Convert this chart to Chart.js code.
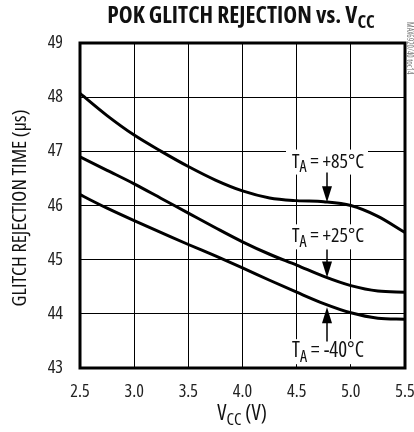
<!DOCTYPE html>
<html>
<head>
<meta charset="utf-8">
<script src="https://cdn.jsdelivr.net/npm/chart.js@4.4.1/dist/chart.umd.min.js"></script>
<style>
    html, body { margin: 0; padding: 0; background: #fff; }
    #wrap { width: 414px; height: 432px; position: relative; }
</style>
</head>
<body>
<div id="wrap"><canvas id="chart"></canvas></div>
<script>
// supply voltage (V)
const vcc = [2.5, 2.75, 3.0, 3.25, 3.5, 3.75, 4.0, 4.25, 4.5, 4.75, 5.0, 5.25, 5.5];
// glitch rejection time (us) per temperature
const t85 = [48.07, 47.66, 47.3, 47.0, 46.72, 46.47, 46.27, 46.14, 46.09, 46.07, 46.0, 45.8, 45.5];
const t25 = [46.9, 46.65, 46.4, 46.13, 45.86, 45.59, 45.33, 45.1, 44.9, 44.69, 44.52, 44.42, 44.4];
const tm40 = [46.2, 45.95, 45.72, 45.5, 45.28, 45.07, 44.85, 44.62, 44.4, 44.19, 44.02, 43.92, 43.9];

const xTicks = [2.5, 3.0, 3.5, 4.0, 4.5, 5.0, 5.5];
const yTicks = [43, 44, 45, 46, 47, 48, 49];

// annotation labels: [temp text, x (V), label baseline (us), arrow tail (us), arrow tip (us)]
const notes = [
    ['+85°C', 4.78, 46.70, 46.61, 46.06],
    ['+25°C', 4.78, 45.32, 45.19, 44.67],
    ['-40°C', 4.78, 43.20, 43.49, 44.12]
];

// condensed face if the browser gives one, else DejaVu Sans Condensed
let FAMILY = "'Open Sans'";
let STRETCH = 'condensed';
(function pickFont() {
    const c = document.createElement('canvas').getContext('2d');
    c.font = "16px 'Open Sans'";
    const w1 = c.measureText('2.5 +85°C').width;
    c.font = "condensed 16px 'Open Sans'";
    const w2 = c.measureText('2.5 +85°C').width;
    if (!(w2 < w1 * 0.9)) {
        FAMILY = "'DejaVu Sans Condensed', sans-serif";
        STRETCH = '';
    }
})();

function fnt(size, bold) {
    return (STRETCH ? STRETCH + ' ' : '') + (bold ? 'bold ' : '') + size + 'px ' + FAMILY;
}

function series(vals) {
    return {
        data: vcc.map((v, i) => ({ x: v, y: vals[i] })),
        borderColor: '#000',
        borderWidth: 3,
        pointRadius: 0,
        cubicInterpolationMode: 'monotone',
        fill: false
    };
}

// text with subscript parts; returns width
function subText(ctx, parts, x, y, size, bold, draw) {
    let w = 0;
    const widths = parts.map(p => {
        ctx.font = fnt(p.sub ? Math.round(size * 0.78) : size, bold);
        const m = ctx.measureText(p.t).width;
        w += m;
        return m;
    });
    if (draw === false) return w;
    let cx = x - w / 2;
    ctx.textAlign = 'left';
    ctx.textBaseline = 'alphabetic';
    parts.forEach((p, i) => {
        ctx.font = fnt(p.sub ? Math.round(size * 0.78) : size, bold);
        ctx.fillText(p.t, cx, y + (p.sub ? size * 0.22 : 0));
        cx += widths[i];
    });
    return w;
}

// pick the size that makes text as wide as the target
function fitSize(ctx, parts, bold, target, base) {
    const w = subText(ctx, parts, 0, 0, base, bold, false);
    return base * target / w;
}

const decor = {
    id: 'decor',
    beforeDatasetsDraw(chart) {
        const { ctx, scales } = chart;
        ctx.save();
        ctx.fillStyle = '#fff';
        notes.forEach(n => {
            const x = scales.x.getPixelForValue(n[1]);
            const y = scales.y.getPixelForValue(n[2]);
            ctx.fillRect(x - 41, y - 18, 82, 25);
        });
        ctx.restore();
    },
    afterDraw(chart) {
        const { ctx, chartArea: a, scales } = chart;
        ctx.save();
        ctx.fillStyle = '#111';
        ctx.strokeStyle = '#000';

        // frame
        ctx.lineWidth = 3;
        ctx.strokeRect(a.left, a.top, a.right - a.left, a.bottom - a.top);

        // title
        const tParts = [{ t: 'POK GLITCH REJECTION vs. V' }, { t: 'CC', sub: true }];
        subText(ctx, tParts, 241, 23, fitSize(ctx, tParts, true, 268, 18), true);

        // x title
        const xParts = [{ t: 'V' }, { t: 'CC', sub: true }, { t: ' (V)' }];
        subText(ctx, xParts, 242, 420, fitSize(ctx, xParts, false, 49, 17), false);

        // y title
        ctx.save();
        ctx.translate(26, 208);
        ctx.rotate(-Math.PI / 2);
        const yParts = [{ t: 'GLITCH REJECTION TIME (µs)' }];
        subText(ctx, yParts, 0, 0, fitSize(ctx, yParts, false, 197, 17), false);
        ctx.restore();

        // side code
        ctx.save();
        ctx.translate(407, 22);
        ctx.rotate(Math.PI / 2);
        ctx.font = fnt(8);
        ctx.fillStyle = '#777';
        ctx.textAlign = 'left';
        ctx.fillText('MAX6920/40 toc14', 0, 0);
        ctx.restore();

        // temperature labels and arrows
        notes.forEach(n => {
            const x = scales.x.getPixelForValue(n[1]);
            const ly = scales.y.getPixelForValue(n[2]);
            const ty = scales.y.getPixelForValue(n[3]);
            const py = scales.y.getPixelForValue(n[4]);
            ctx.fillStyle = '#111';
            const lParts = [{ t: 'T' }, { t: 'A', sub: true }, { t: ' = ' + n[0] }];
            subText(ctx, lParts, x + 1, ly, fitSize(ctx, lParts, false, 72, 18), false);
            const dir = py > ty ? 1 : -1;
            ctx.lineWidth = 1.5;
            ctx.beginPath();
            ctx.moveTo(x, ty);
            ctx.lineTo(x, py - dir * 12);
            ctx.stroke();
            ctx.beginPath();
            ctx.moveTo(x, py);
            ctx.lineTo(x - 5, py - dir * 16);
            ctx.lineTo(x + 5, py - dir * 16);
            ctx.closePath();
            ctx.fillStyle = '#000';
            ctx.fill();
        });
        ctx.restore();
    }
};

const tickFont = { family: FAMILY, size: 18, weight: STRETCH || undefined };

new Chart(document.getElementById('chart'), {
    type: 'line',
    data: { datasets: [series(t85), series(t25), series(tm40)] },
    options: {
        responsive: true,
        maintainAspectRatio: false,
        animation: false,
        layout: { padding: { left: 0, right: 9, top: 43, bottom: 0 } },
        plugins: { legend: { display: false }, tooltip: { enabled: false } },
        scales: {
            x: {
                type: 'linear',
                min: 2.5,
                max: 5.5,
                afterBuildTicks: s => { s.ticks = xTicks.map(v => ({ value: v })); },
                afterFit: s => { s.height = 64; s.paddingLeft = 0; s.paddingRight = 0; },
                grid: { color: '#000', lineWidth: 1, drawTicks: false },
                border: { display: false },
                ticks: {
                    color: '#222',
                    padding: 13,
                    maxRotation: 0,
                    font: tickFont,
                    callback: v => v.toFixed(1)
                }
            },
            y: {
                min: 43,
                max: 49,
                afterBuildTicks: s => { s.ticks = yTicks.map(v => ({ value: v })); },
                afterFit: s => { s.width = 80; s.paddingTop = 0; s.paddingBottom = 0; },
                grid: { color: '#000', lineWidth: 1, drawTicks: false },
                border: { display: false },
                ticks: {
                    color: '#222',
                    padding: 17,
                    font: tickFont,
                    callback: v => String(v)
                }
            }
        }
    },
    plugins: [decor]
});
</script>
</body>
</html>
